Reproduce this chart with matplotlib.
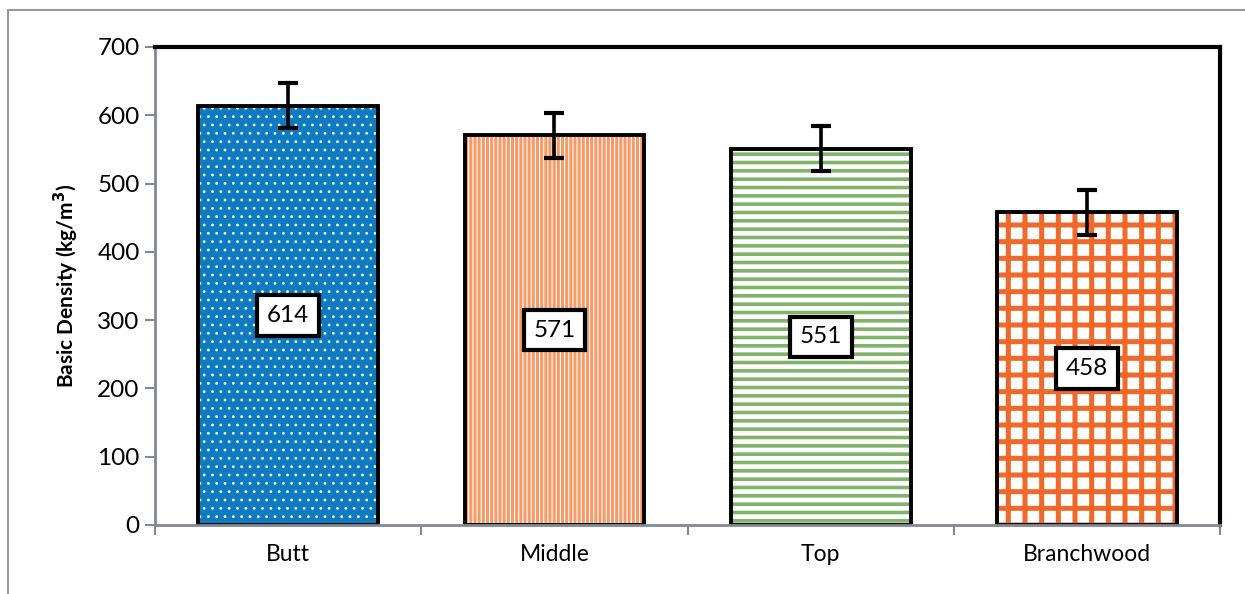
import matplotlib
matplotlib.use("Agg")
import matplotlib.pyplot as plt
import numpy as np

# data
categories = ["Butt", "Middle", "Top", "Branchwood"]
density = [614, 571, 551, 458]
errors = [33, 33, 33, 33]

# fill styles per bar: (face, hatch colour, hatch)
face_colors = ["#0E7BC0", "#F79A66", "white", "white"]
hatch_colors = ["white", "white", "#80B46A", "#F0682A"]
hatches = ["..", "||||", "--", "+"]
hatch_widths = [0.8, 0.8, 2.6, 3.6]

plt.rcParams["font.family"] = ["Lato", "DejaVu Sans"]

fig = plt.figure(figsize=(12.45, 5.94), dpi=100)
ax = fig.add_axes([0.1245, 0.1162, 0.8555, 0.8047])

x = np.arange(len(categories))
width = 0.675

for i in range(len(categories)):
    plt.rcParams["hatch.linewidth"] = hatch_widths[i]
    b = ax.bar(x[i], density[i], width, color=face_colors[i],
               edgecolor=hatch_colors[i], hatch=hatches[i], linewidth=0, zorder=2)
    for p in b:
        if hasattr(p, "set_hatch_linewidth"):
            p.set_hatch_linewidth(hatch_widths[i])

# black outlines on top of the patterns
ax.bar(x, density, width, fill=False, edgecolor="black", linewidth=2.8, zorder=3)

ax.errorbar(x, density, yerr=errors, fmt="none", ecolor="black",
            elinewidth=2.6, capsize=7, capthick=3, zorder=4)

# value boxes at half height
for i, v in enumerate(density):
    ax.text(x[i], v / 2, str(v), ha="center", va="center", fontsize=17.5,
            zorder=5,
            bbox=dict(boxstyle="square,pad=0.4", facecolor="white",
                      edgecolor="black", linewidth=3))

ax.set_xlim(-0.5, len(categories) - 0.5)
ax.set_ylim(0, 700)
ax.set_yticks(range(0, 701, 100))
ax.set_xticks(x)
ax.set_xticklabels(categories, fontsize=16.5)
ax.set_xticks(np.arange(-0.5, len(categories), 1), minor=True)
ax.tick_params(axis="x", which="major", length=0, pad=14)
ax.tick_params(axis="x", which="minor", length=7, width=1.5, color="#7F8A96")
ax.tick_params(axis="y", length=7, width=1.5, color="#7F8A96", labelsize=17.5, pad=4)

ax.spines["left"].set_color("#7F8A96")
ax.spines["bottom"].set_color("#7F8A96")
ax.spines["left"].set_linewidth(2)
ax.spines["bottom"].set_linewidth(2)
ax.spines["top"].set_linewidth(3)
ax.spines["right"].set_linewidth(3)
ax.spines["bottom"].set_zorder(6)

ax.set_ylabel("Basic Density (kg/m$^\\mathbf{3}$)", fontsize=15, fontweight="bold", labelpad=12)

# thin grey frame around the whole picture
fig.add_artist(plt.Line2D([8 / 1245, 8 / 1245], [0, 1 - 10 / 594],
                          transform=fig.transFigure, color="#999999", linewidth=1.5))
fig.add_artist(plt.Line2D([8 / 1245, 1], [1 - 10 / 594, 1 - 10 / 594],
                          transform=fig.transFigure, color="#999999", linewidth=1.5))

fig.savefig("out.png", dpi=100)
